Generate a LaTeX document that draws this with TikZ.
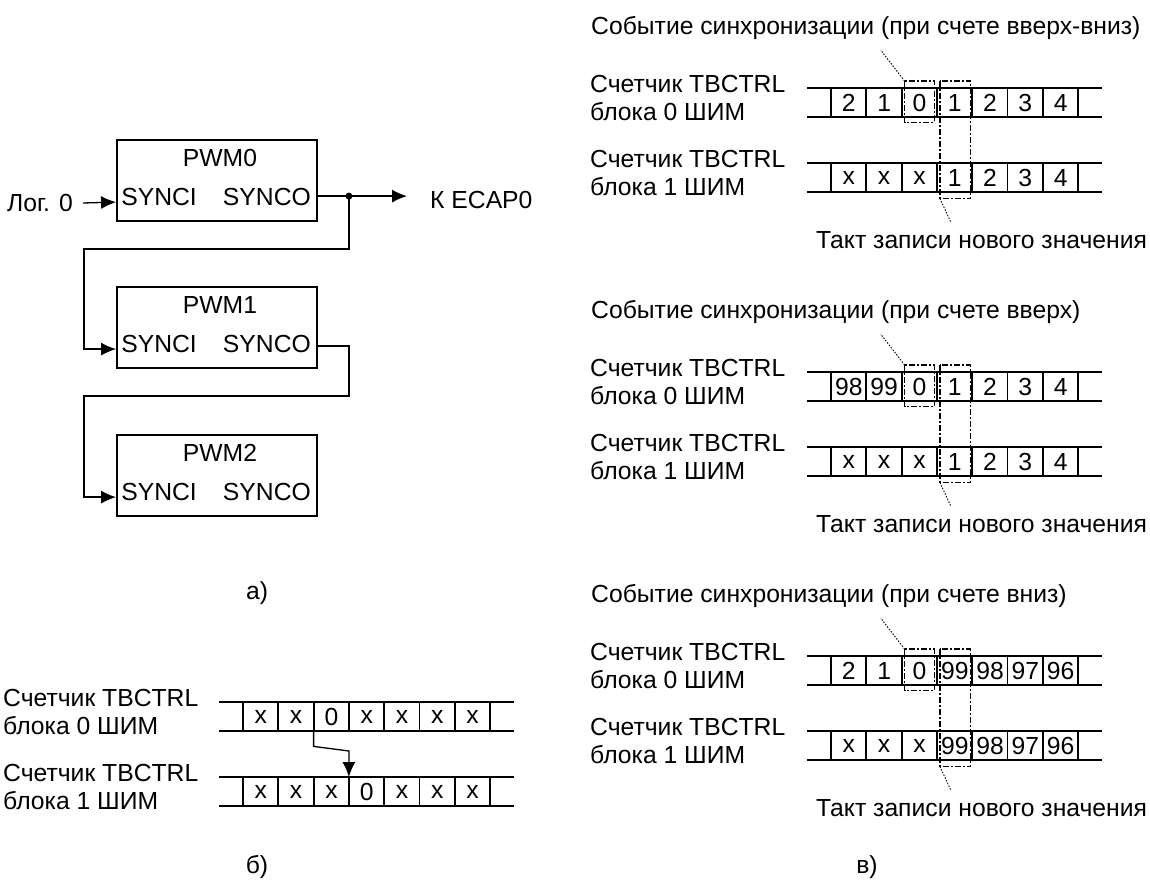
\documentclass[tikz,border=0pt]{standalone}
\usepackage{fontspec}
\setmainfont{Liberation Sans}
\usetikzlibrary{arrows.meta,calc}

\tikzset{
  pwm/.style={draw, line width=1.8pt, minimum width=200pt, minimum height=81pt},
  cell/.style={minimum width=35.3pt, minimum height=29pt},
  wire/.style={line width=1.3pt},
  tip/.style={-{Latex[length=15pt,width=13pt]}},
  frame0/.style={line width=1.5pt, dash pattern=on 6pt off 2pt on 2pt off 2pt},
  hint/.style={line width=0.9pt, dash pattern=on 1.5pt off 1.5pt},
  lbl/.style={anchor=west, align=left},
}

% counter row: name, x of first cell, y of top line, values
\newcommand{\tbrow}[4]{%
  \draw[line width=1.8pt] (#2-24,#3) -- (#2+271,#3) (#2-24,#3+29) -- (#2+271,#3+29);
  \foreach \v [count=\i from 0] in {#4}
    \node[cell, anchor=north west] (#1-\i) at (#2+35.3*\i,#3) {\v};
  \foreach \i in {0,...,7}
    \draw[line width=1.8pt] (#2+35.3*\i,#3) -- ++(0,29);
}

% sync panel: name, y of first row, title, row 0, row 1
\newcommand{\syncpanel}[5]{%
  \node[lbl] (#1-t) at (591,#2-60) {#3};
  \node[lbl] (#1-l0) at (590,#2+10) {Счетчик TBCTRL\\блока 0 ШИМ};
  \node[lbl] (#1-l1) at (590,#2+85) {Счетчик TBCTRL\\блока 1 ШИМ};
  \tbrow{#1a}{831}{#2}{#4}
  \tbrow{#1b}{831}{#2+75}{#5}
  \draw[frame0] ($(#1a-2.north west)+(3,-7)$) rectangle ($(#1a-2.south east)+(-3,5)$);
  \draw[frame0] ($(#1a-3.north west)+(3,-7)$) rectangle ($(#1b-3.south east)+(-2,6)$);
  \draw[hint] ($(#1a-2.north west)+(3,-7)$) -- ++(-24,-31);
  \draw[hint] ($(#1b-3.south west)+(3,6)$) -- ++(11,24);
  \node[lbl] (#1-w) at (816,#2+152) {Такт записи нового значения};
}

\begin{document}
\begin{tikzpicture}[x=1pt, y=-1pt, font=\fontsize{24.7}{28}\selectfont, inner sep=0pt]
  \useasboundingbox (0,0) rectangle (1150,880);

  % a)
  \node[pwm] (p0) at (217,180.5) {};
  \node[pwm] (p1) at (217,327.5) {};
  \node[pwm] (p2) at (217,475.5) {};
  \foreach \n in {0,1,2} {
    \node (p\n-name) at ($(p\n.north)+(3,19)$) {PWM\n};
    \node (p\n-in) at ($(p\n.north west)+(43,58)$) {SYNCI};
    \node (p\n-out) at ($(p\n.north east)+(-51,58)$) {SYNCO};
  }
  \node[anchor=east] (log) at (73,203) {Лог. 0};
  \node[anchor=west] (ecap) at (430,200) {К ECAP0};
  \coordinate (dot) at ($(p0.north east)+(31,57)$);
  \draw[wire, tip] ($(log.east)+(10,0)$) -- ($(p0.north west)+(0,63)$);
  \draw[wire] ($(p0.north east)+(0,57)$) -- (dot);
  \fill (dot) circle (3.5pt);
  \draw[wire, tip] (dot) -- ($(dot -| ecap.west)+(-23,0)$);
  \draw[wire, tip] (dot) |- (84,249) |- ($(p1.north west)+(0,63)$);
  \draw[wire, tip] ($(p1.north east)+(0,60)$) -- ++(31,0) |- (84,396) |- ($(p2.north west)+(0,63)$);
  \node (cap-a) at (257,593) {а)};

  % b)
  \node[lbl] (b-l0) at (3,712) {Счетчик TBCTRL\\блока 0 ШИМ};
  \node[lbl] (b-l1) at (3,787) {Счетчик TBCTRL\\блока 1 ШИМ};
  \tbrow{b0}{243}{702}{x,x,0,x,x,x,x}
  \tbrow{b1}{243}{777}{x,x,x,0,x,x,x}
  \draw[wire, tip] (b0-2.south west) -- ++(0,15) -- ($(b1-3.north west)+(0,-26)$) -- (b1-3.north west);
  \node (cap-b) at (257,867) {б)};

  % c)
  \syncpanel{s1}{88}{Событие синхронизации (при счете вверх-вниз)}{2,1,0,1,2,3,4}{x,x,x,1,2,3,4}
  \syncpanel{s2}{372}{Событие синхронизации (при счете вверх)}{98,99,0,1,2,3,4}{x,x,x,1,2,3,4}
  \syncpanel{s3}{656}{Событие синхронизации (при счете вниз)}{2,1,0,99,98,97,96}{x,x,x,99,98,97,96}
  \node (cap-c) at (867,867) {в)};

\end{tikzpicture}
\end{document}
